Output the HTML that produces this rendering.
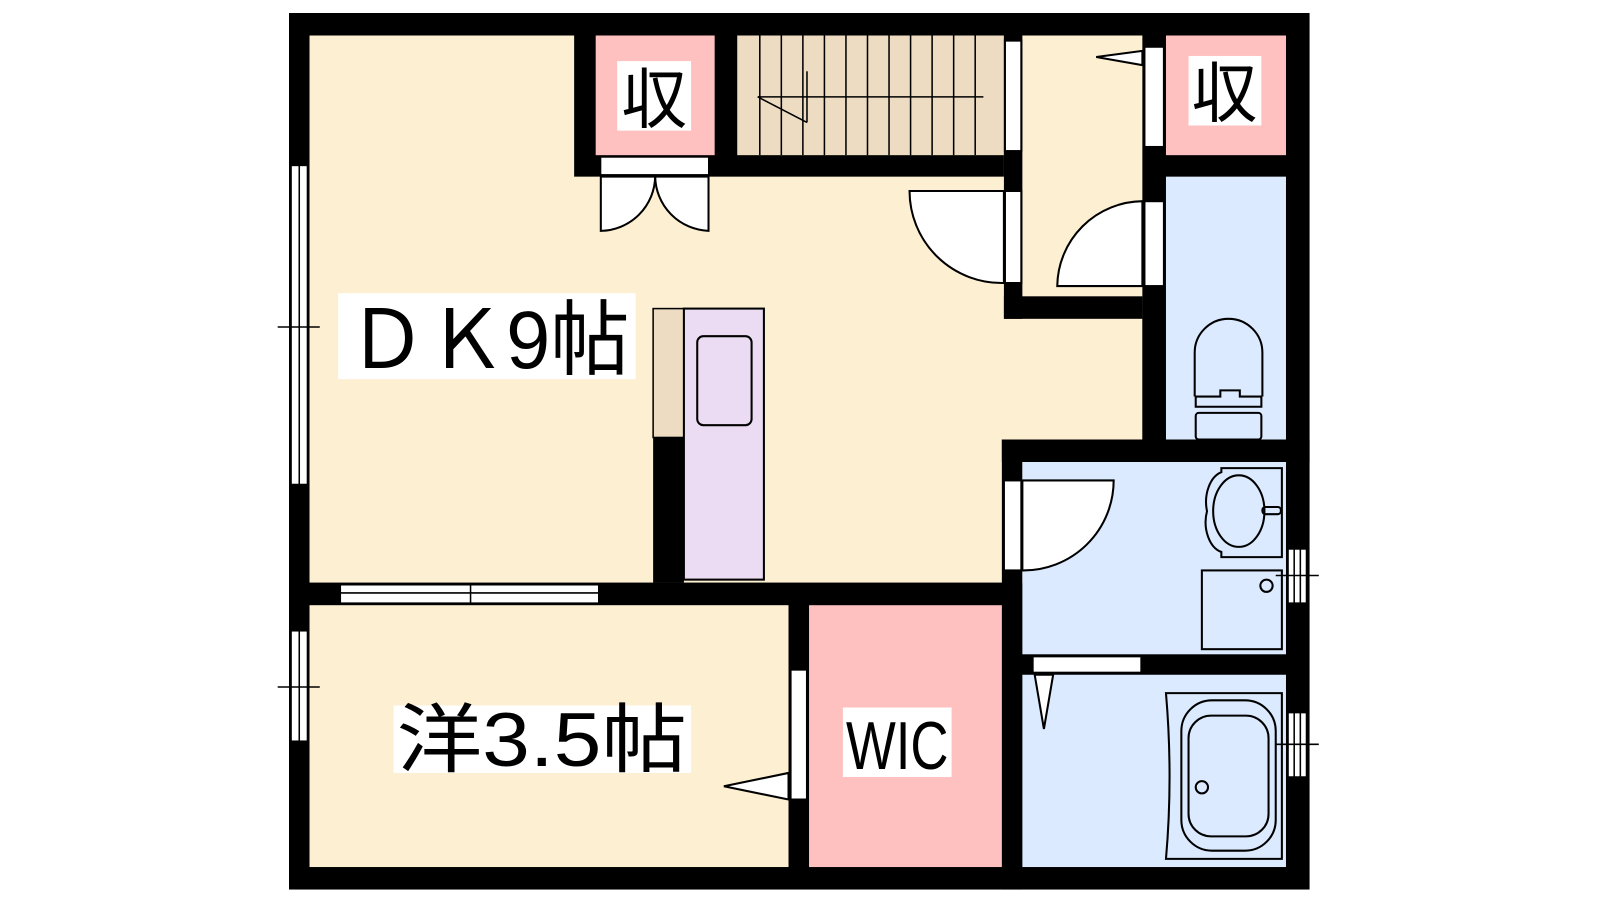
<!DOCTYPE html>
<html><head><meta charset="utf-8"><style>
html,body{margin:0;padding:0;background:#fff;width:1600px;height:900px;overflow:hidden}
text{font-family:"Liberation Sans","Noto Sans CJK JP",sans-serif}
</style></head><body>
<svg width="1600" height="900" viewBox="0 0 1600 900" xmlns="http://www.w3.org/2000/svg">
<g transform="translate(-6.4,-0.3) scale(1.0257,1.0228)">
<!-- outer wall -->
<rect x="288" y="13" width="995" height="857" fill="#000"/>
<!-- rooms -->
<rect x="308" y="35" width="812" height="535" fill="#fdf0d2"/>
<rect x="1003" y="35" width="117" height="255" fill="#fdf0d2"/>
<rect x="566" y="35" width="419" height="138" fill="#000"/>
<rect x="587" y="35" width="116" height="117" fill="#ffc0c0"/>
<rect x="725" y="35" width="260" height="117" fill="#eddcc2"/>
<rect x="985" y="35" width="18" height="277" fill="#000"/>
<rect x="985" y="290" width="135" height="22" fill="#000"/>
<rect x="1120" y="35" width="23" height="417" fill="#000"/>
<rect x="1143" y="35" width="117" height="117" fill="#ffc0c0"/>
<rect x="1143" y="173" width="117" height="257" fill="#dbeafe"/>
<rect x="983" y="430" width="300" height="22" fill="#000"/>
<rect x="983" y="430" width="20" height="440" fill="#000"/>
<rect x="1003" y="452" width="257" height="188" fill="#dbeafe"/>
<rect x="1003" y="660" width="257" height="188" fill="#dbeafe"/>
<rect x="288" y="570" width="695" height="22" fill="#000"/>
<rect x="308" y="592" width="467" height="256" fill="#fdf0d2"/>
<rect x="795" y="592" width="188" height="256" fill="#ffc0c0"/>
<!-- stairs -->
<g stroke="#000" stroke-width="1.5">
<line x1="747" y1="35" x2="747" y2="152"/><line x1="768" y1="35" x2="768" y2="152"/><line x1="789" y1="35" x2="789" y2="152"/>
<line x1="810" y1="35" x2="810" y2="152"/><line x1="831" y1="35" x2="831" y2="152"/><line x1="852" y1="35" x2="852" y2="152"/>
<line x1="873" y1="35" x2="873" y2="152"/><line x1="894" y1="35" x2="894" y2="152"/><line x1="915" y1="35" x2="915" y2="152"/>
<line x1="936" y1="35" x2="936" y2="152"/><line x1="957" y1="35" x2="957" y2="152"/>
<line x1="745" y1="95" x2="965" y2="95"/><line x1="793" y1="70" x2="793" y2="120"/><line x1="745" y1="95" x2="793" y2="120"/>
</g>
<!-- doors -->
<g fill="#fff" stroke="#000" stroke-width="2">
<rect x="592" y="154" width="105" height="17" stroke-width="1"/>
<path d="M592 173 L592 226 A54 54 0 0 0 645 173 Z"/>
<path d="M697 173 L697 226 A54 54 0 0 1 645 173 Z"/>
<rect x="986" y="40" width="16" height="108"/>
<rect x="986" y="187" width="16" height="90"/>
<path d="M985 277 A90 90 0 0 1 893 187 L985 187 Z"/>
<rect x="1122" y="46" width="19" height="98"/>
<path d="M1120 50 L1075 56 L1120 64 Z"/>
<rect x="1122" y="197" width="19" height="83"/>
<path d="M1120 197 A84 84 0 0 0 1037 280 L1120 280 Z"/>
<rect x="985" y="470" width="17" height="88"/>
<path d="M1003 470 L1092 470 A88 88 0 0 1 1003 558 Z"/>
<rect x="1013" y="642" width="106" height="16"/>
<path d="M1015 660 L1033 660 L1024 713 Z"/>
<rect x="777" y="655" width="16" height="127"/>
<path d="M775 756 L712 769 L775 782 Z"/>
</g>
<!-- windows -->
<g fill="#fff" stroke="#000" stroke-width="1.5">
<rect x="290" y="162" width="16" height="312"/><line x1="298" y1="162" x2="298" y2="474"/><line x1="277" y1="320" x2="318" y2="320"/>
<rect x="290" y="617" width="16" height="108"/><line x1="298" y1="617" x2="298" y2="725"/><line x1="277" y1="672" x2="318" y2="672"/>
<rect x="338" y="572" width="252" height="18"/><line x1="338" y1="580" x2="590" y2="580"/><line x1="465" y1="572" x2="465" y2="590"/>
<rect x="1262" y="537" width="18" height="53"/><line x1="1268" y1="537" x2="1268" y2="590"/><line x1="1274" y1="537" x2="1274" y2="590"/><line x1="1250" y1="563" x2="1292" y2="563"/>
<rect x="1262" y="697" width="18" height="63"/><line x1="1268" y1="697" x2="1268" y2="760"/><line x1="1274" y1="697" x2="1274" y2="760"/><line x1="1250" y1="728" x2="1292" y2="728"/>
</g>
<!-- kitchen -->
<rect x="643" y="302" width="30" height="126" fill="#eddcc2" stroke="#000" stroke-width="1.5"/>
<rect x="643" y="428" width="30" height="142" fill="#000"/>
<rect x="673" y="302" width="78" height="265" fill="#ecdcf3" stroke="#000" stroke-width="2"/>
<rect x="686" y="329" width="53" height="87" rx="6" fill="none" stroke="#000" stroke-width="2"/>
<!-- toilet / sink / bath -->
<g fill="none" stroke="#000" stroke-width="2">
<path d="M1171 388 L1171 345 A33 33 0 0 1 1237 345 L1237 388"/>
<path d="M1172 388 L1196 388 L1196 382 L1215 382 L1215 388 L1236 388 L1236 398 L1172 398 Z"/>
<rect x="1172" y="404" width="64" height="26" rx="3"/>
<path d="M1197 458 L1256 458 L1256 545 L1197 545 L1197 540 A20 30 0 0 1 1183 500 A20 30 0 0 1 1197 462 Z"/>
<ellipse cx="1214" cy="500" rx="25" ry="35"/>
<rect x="1237" y="496" width="18" height="7" rx="3"/>
<rect x="1178" y="558" width="78" height="77"/>
<circle cx="1241" cy="573" r="6"/>
<path d="M1143 678 L1256 678 L1256 840 L1143 840 Q1150 760 1143 678 Z"/>
<rect x="1158" y="685" width="92" height="147" rx="30"/>
<rect x="1165" y="700" width="78" height="118" rx="22"/>
<circle cx="1178" cy="770" r="6"/>
</g>
<!-- labels -->
<rect x="608" y="60" width="72" height="68" fill="#fff"/>
<text x="644" y="120" font-size="64" text-anchor="middle">収</text>
<rect x="1165" y="55" width="71" height="68" fill="#fff"/>
<text x="1200" y="114" font-size="64" text-anchor="middle">収</text>
<rect x="336" y="287" width="290" height="84" fill="#fff"/>
<text x="345" y="360" font-size="80" textLength="275" lengthAdjust="spacingAndGlyphs">ＤＫ9帖</text>
<rect x="390" y="690" width="290" height="66" fill="#fff"/>
<text x="393" y="749" font-size="74" textLength="283" lengthAdjust="spacingAndGlyphs">洋3.5帖</text>
<rect x="828" y="692" width="106" height="68" fill="#fff"/>
<text x="831" y="752" font-size="66" textLength="100" lengthAdjust="spacingAndGlyphs">WIC</text>
</g>
</svg>
</body></html>
